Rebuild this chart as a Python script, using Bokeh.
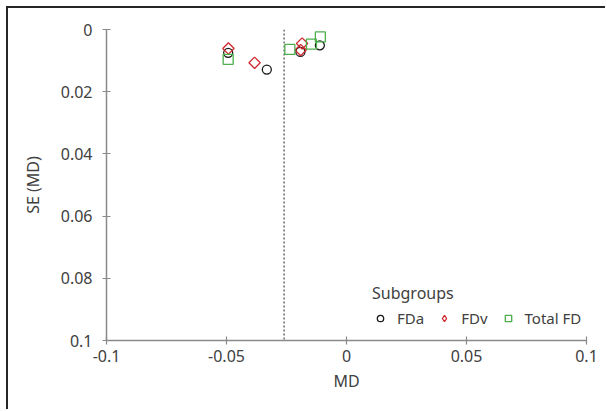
import math
from bokeh.plotting import figure
from bokeh.models import Range1d, FixedTicker, CustomJSTickFormatter, Legend, LegendItem
from bokeh.embed import file_html
from bokeh.resources import INLINE

# Data
fda_md = [-0.0493, -0.0332, -0.0192, -0.0111]
fda_se = [0.0075, 0.0129, 0.0072, 0.0051]
fdv_md = [-0.0492, -0.0383, -0.0185, -0.0191]
fdv_se = [0.0061, 0.0107, 0.0045, 0.0066]
tot_md = [-0.0493, -0.0236, -0.0146, -0.0109]
tot_se = [0.0096, 0.0064, 0.0047, 0.0024]
pooled_md = -0.026
x_ticks = [-0.1, -0.05, 0, 0.05, 0.1]
y_ticks = [0, 0.02, 0.04, 0.06, 0.08, 0.1]

FONT = "Noto Sans"
TXT = "#404040"
AX = "#8a8a8a"
RED = "#d0282e"

p = figure(width=599, height=403, output_backend="svg", toolbar_location=None,
           x_range=Range1d(-0.1, 0.1), y_range=Range1d(0.1, 0.0),
           min_border_left=98, min_border_top=21, min_border_right=21, min_border_bottom=71)
p.styles = {"margin-left": "6px", "margin-top": "6px",
            "border-left": "2px solid #262626", "border-top": "2px solid #262626"}
p.outline_line_color = None
p.grid.visible = False
p.background_fill_color = "white"
p.border_fill_color = "white"

fmt = CustomJSTickFormatter(code="return String(Math.round(tick*1000)/1000);")
for ax, ticks in ((p.xaxis[0], x_ticks), (p.yaxis[0], y_ticks)):
    ax.ticker = FixedTicker(ticks=ticks)
    ax.formatter = fmt
    ax.minor_tick_line_color = None
    ax.major_tick_in = 4
    ax.major_tick_out = 4
    ax.major_tick_line_color = AX
    ax.axis_line_color = AX
    ax.axis_line_width = 1.5
    ax.major_tick_line_width = 1.2
    ax.major_label_text_font = FONT
    ax.major_label_text_font_size = "16px"
    ax.major_label_text_color = TXT
    ax.axis_label_text_font = FONT
    ax.axis_label_text_font_size = "16px"
    ax.axis_label_text_color = TXT
    ax.axis_label_text_font_style = "normal"

p.xaxis.axis_label = "MD"
p.yaxis.axis_label = "SE (MD)"
p.yaxis.major_label_standoff = 10
p.yaxis.axis_label_standoff = 14
p.xaxis.major_label_standoff = 5
p.xaxis.axis_label_standoff = 5

p.segment(x0=[pooled_md], y0=[0], x1=[pooled_md], y1=[0.1],
          line_color="#222222", line_dash="2 2", line_width=1)

r1 = p.scatter(fda_md, fda_se, marker="circle", size=9, fill_color=None,
               line_color="#1a1a1a", line_width=1.3)
r2 = p.scatter(fdv_md, fdv_se, marker="square", angle=math.pi / 4, size=8,
               fill_color=None, line_color=RED, line_width=1.3)
# legend-only proxy for the diamond symbol (no visible points)
r2_leg = p.scatter([float("nan")], [float("nan")], marker="diamond", size=12,
                   fill_color=None, line_color=RED, line_width=1.3)
r3 = p.scatter(tot_md, tot_se, marker="square", size=10, fill_color=None,
               line_color="#4cb04c", line_width=1.3)

legend = Legend(items=[LegendItem(label="FDa", renderers=[r1]),
                       LegendItem(label="FDv", renderers=[r2_leg]),
                       LegendItem(label="Total FD", renderers=[r3])],
                orientation="horizontal", location=(266, 12),
                title="Subgroups")
legend.title_text_font = FONT
legend.title_text_font_size = "16px"
legend.title_text_font_style = "normal"
legend.title_text_color = TXT
legend.title_standoff = 4
legend.label_text_font = FONT
legend.label_text_font_size = "15px"
legend.label_text_color = TXT
legend.border_line_color = None
legend.background_fill_alpha = 0
legend.padding = 0
legend.margin = 0
legend.glyph_width = 16
legend.glyph_height = 18
legend.label_standoff = 9
legend.spacing = 12
p.add_layout(legend, "center")

open("out.html", "w").write(file_html(p, INLINE))
